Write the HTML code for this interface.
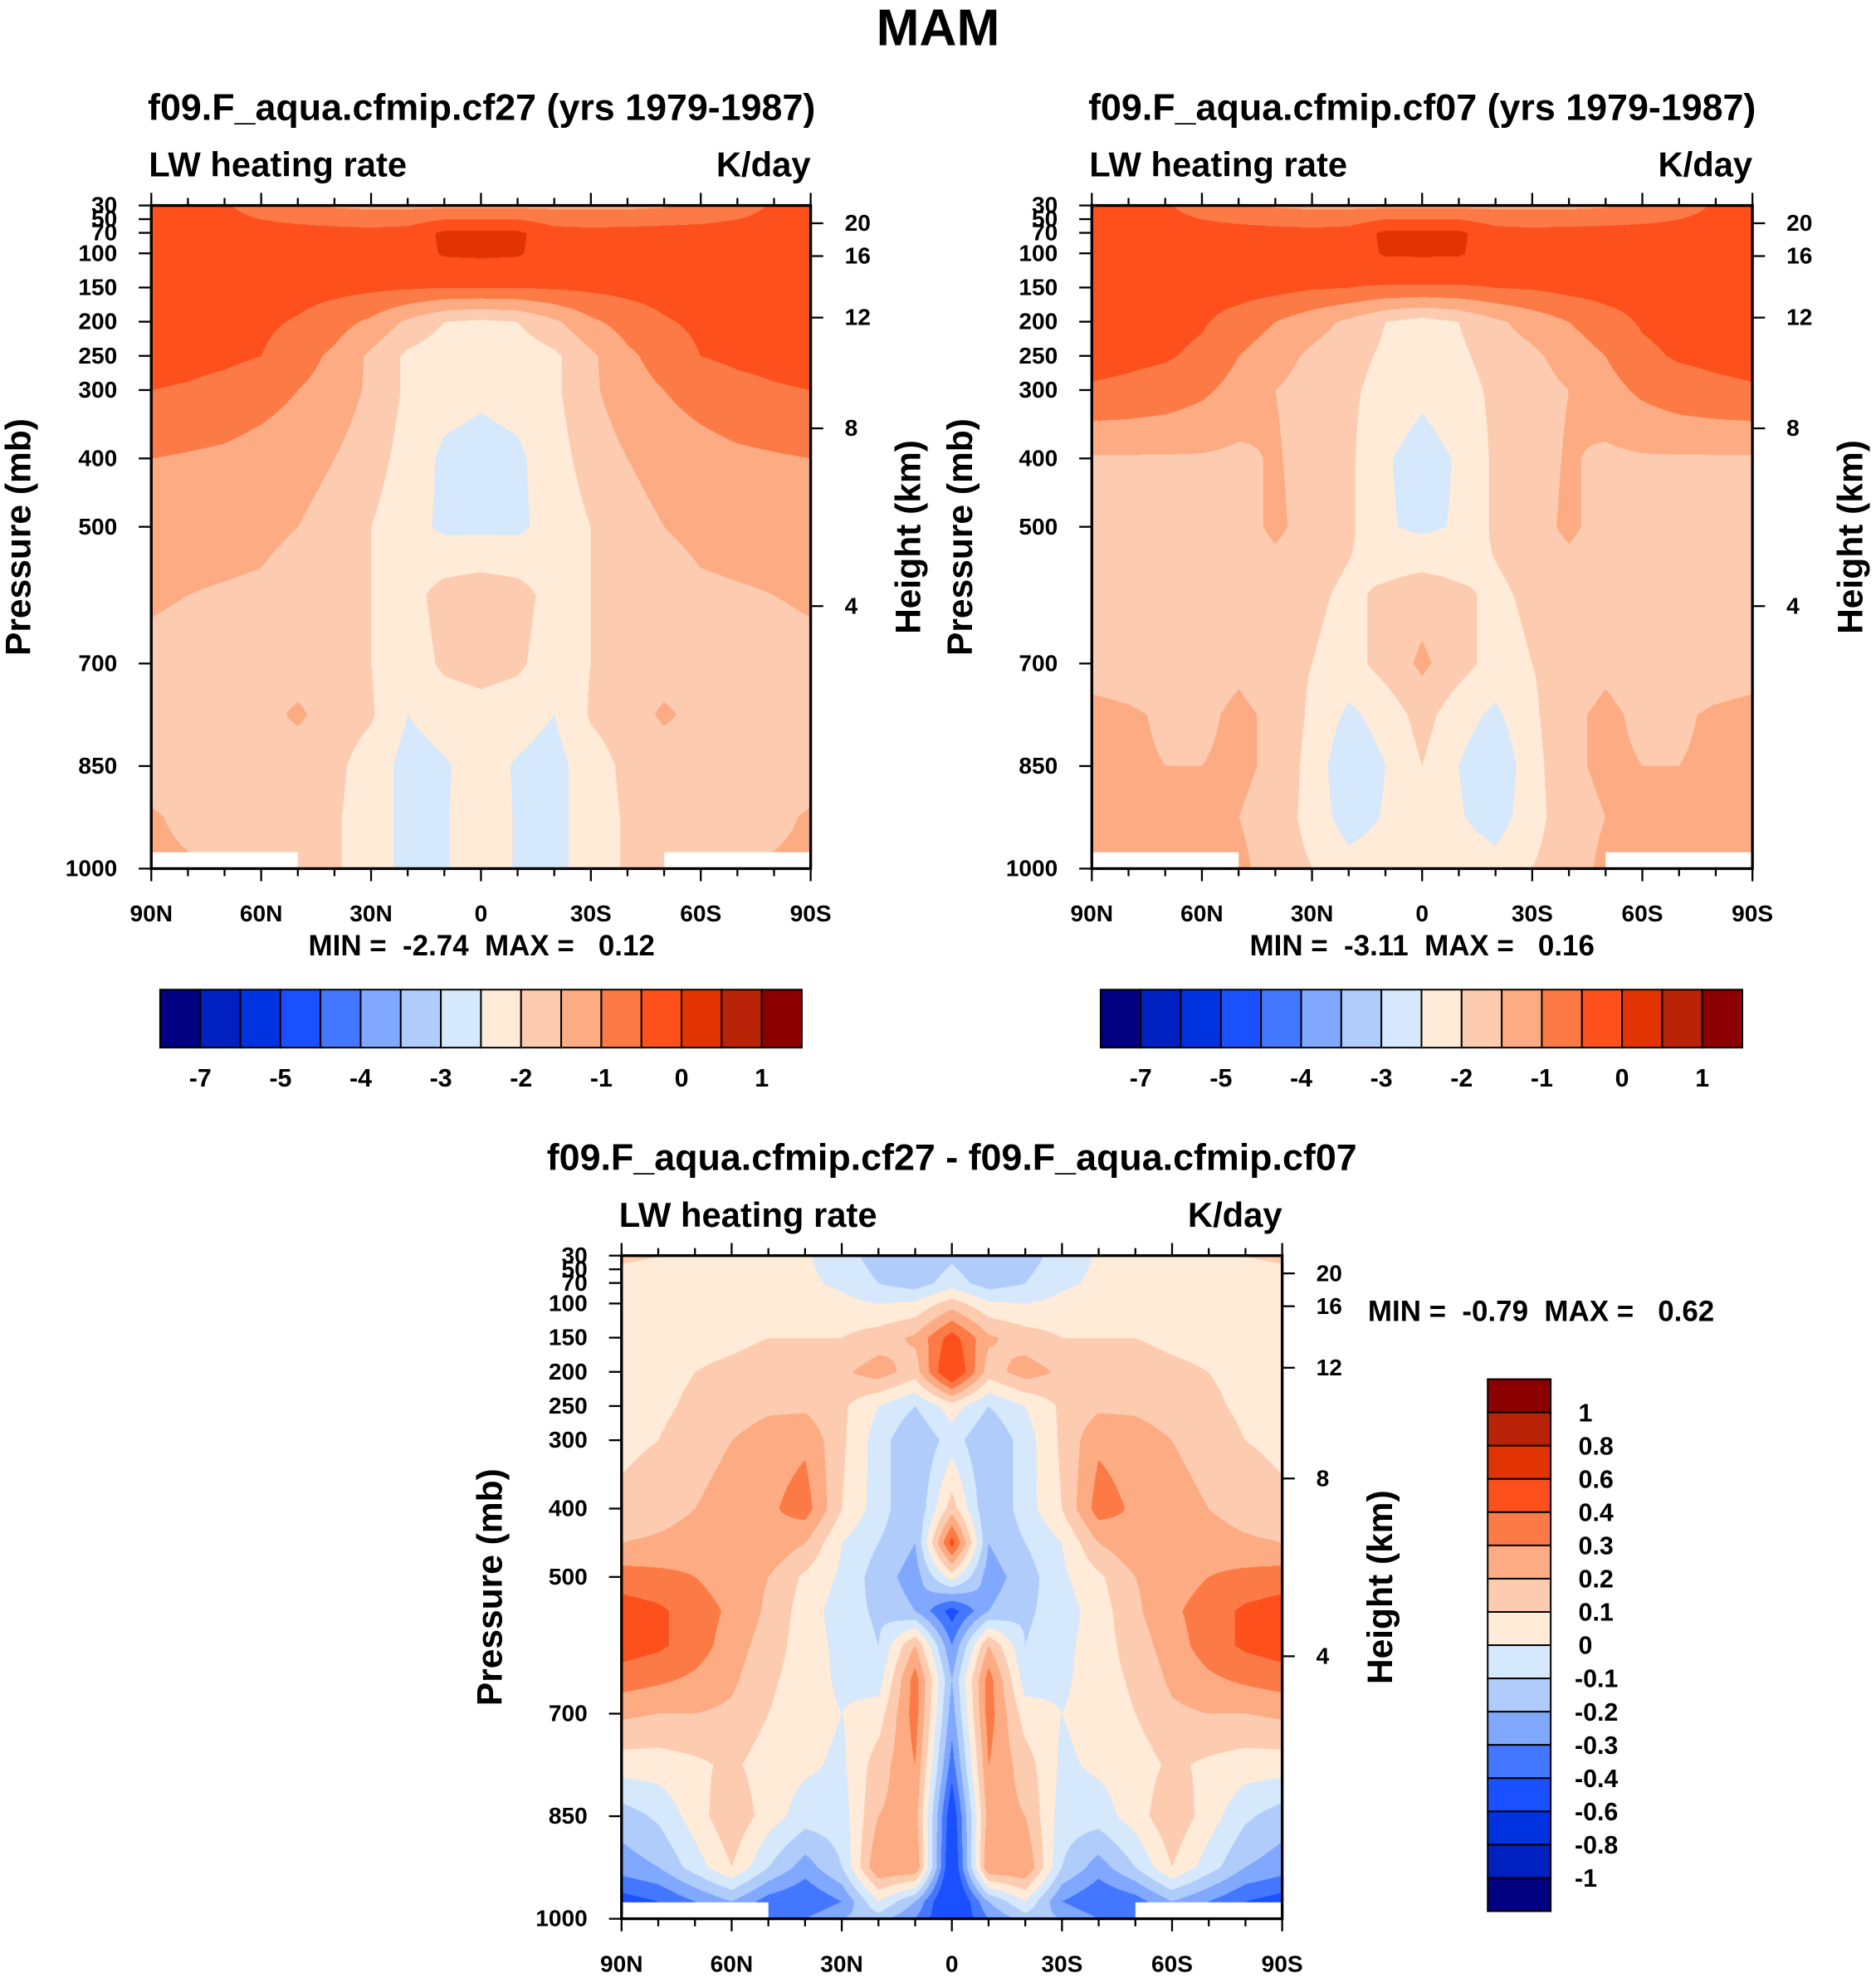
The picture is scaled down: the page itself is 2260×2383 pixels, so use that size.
<!DOCTYPE html>
<html><head><meta charset="utf-8">
<style>
html,body{margin:0;padding:0;background:#fff;}
body{width:2260px;height:2383px;overflow:hidden;position:relative;}
#stage{position:absolute;left:0;top:0;width:1488px;height:1569px;transform-origin:0 0;transform:scale(1.51882,1.51881);}
canvas{position:absolute;}
svg{position:absolute;left:0;top:0;}
text{font-family:"Liberation Sans",Arial,sans-serif;font-weight:bold;fill:#000;white-space:pre;}
</style></head>
<body>
<div id="stage">
<canvas id="c1" style="left:120px;top:163px;width:523px;height:526px" width="1046" height="1052"></canvas>
<canvas id="c2" style="left:866px;top:163px;width:524px;height:526px" width="1048" height="1052"></canvas>
<canvas id="c3" style="left:493px;top:996px;width:524px;height:526px" width="1048" height="1052"></canvas>
<svg id="ov" width="1488" height="1569" viewBox="0 0 1488 1569">
<text x="744" y="36" font-size="41" text-anchor="middle">MAM</text>
<text x="382" y="95" font-size="29.5" text-anchor="middle">f09.F_aqua.cfmip.cf27 (yrs 1979-1987)</text>
<text x="1128" y="95" font-size="29.5" text-anchor="middle">f09.F_aqua.cfmip.cf07 (yrs 1979-1987)</text>
<text x="755" y="928" font-size="29.5" text-anchor="middle">f09.F_aqua.cfmip.cf27 - f09.F_aqua.cfmip.cf07</text>
</svg>
</div>
<script>
// ---------- data ----------
const LATS = [90,80,70,60,50,40,30,20,10,0,-10,-20,-30,-40,-50,-60,-70,-80,-90];
const P12 = [30,70,100,150,200,250,300,400,500,600,700,775,850,925,1000];
const P3 = [30,70,100,150,200,250,300,400,450,500,550,600,650,700,775,850,925,975,1000];
const LEV12 = [-8,-7,-6,-5,-4.5,-4,-3.5,-3,-2.5,-2,-1.5,-1,-0.5,0,0.5,1];
const LEV3 = [-1.2,-1,-0.8,-0.6,-0.4,-0.3,-0.2,-0.1,0,0.1,0.2,0.3,0.4,0.6,0.8,1];
const LAB12 = ["-7","-5","-4","-3","-2","-1","0","1"];
const LAB12IDX = [1,3,5,7,9,11,13,15];
const LAB3 = ["1","0.8","0.6","0.4","0.3","0.2","0.1","0","-0.1","-0.2","-0.3","-0.4","-0.6","-0.8","-1"];
const COLORS = ["#000080","#0020c0","#0033e0","#1a50ff","#4477ff","#80a8ff","#b0ccfa","#d5e8fc","#ffebd8","#fdcbb0","#fcab82","#fc7a45","#fd501c","#e23403","#b82206","#8b0000"];
const PTICKS = [30,50,70,100,150,200,250,300,400,500,700,850,1000];
const HKM = ["20","16","12","8","4"];
const HKM_P = [56,104,194,356,616];
const XLAB = ["90N","60N","30N","0","30S","60S","90S"];
const XLAT = [90,60,30,0,-30,-60,-90];

const V1 = [
[-0.3,-0.35,-0.45,-0.7,-0.9,-1.05,-1.1,-1.1,-1.1,-1.1,-1.1,-1.1,-1.1,-1.1,-1.05,-0.9,-0.7,-0.45,-0.35,-0.3].slice(0,19),
[-0.3,-0.3,-0.3,-0.3,-0.3,-0.32,-0.35,-0.3,0.1,0.12,0.1,-0.3,-0.35,-0.32,-0.3,-0.3,-0.3,-0.3,-0.3],
[-0.3,-0.3,-0.3,-0.3,-0.3,-0.32,-0.35,-0.25,0.05,0.08,0.05,-0.25,-0.35,-0.32,-0.3,-0.3,-0.3,-0.3,-0.3],
[-0.3,-0.3,-0.3,-0.3,-0.3,-0.35,-0.4,-0.45,-0.5,-0.5,-0.5,-0.45,-0.4,-0.35,-0.3,-0.3,-0.3,-0.3,-0.3],
[-0.3,-0.3,-0.35,-0.4,-0.55,-0.8,-1.1,-1.6,-2.0,-2.1,-2.0,-1.6,-1.1,-0.8,-0.55,-0.4,-0.35,-0.3,-0.3],
[-0.3,-0.35,-0.4,-0.5,-0.8,-1.1,-1.6,-2.1,-2.3,-2.4,-2.3,-2.1,-1.6,-1.1,-0.8,-0.5,-0.4,-0.35,-0.3],
[-0.5,-0.55,-0.65,-0.8,-1.0,-1.2,-1.6,-2.1,-2.3,-2.4,-2.3,-2.1,-1.6,-1.2,-1.0,-0.8,-0.65,-0.55,-0.5],
[-1.0,-1.05,-1.1,-1.2,-1.3,-1.5,-1.8,-2.2,-2.6,-2.7,-2.6,-2.2,-1.8,-1.5,-1.3,-1.2,-1.1,-1.05,-1.0],
[-1.3,-1.3,-1.3,-1.35,-1.5,-1.7,-2.0,-2.3,-2.6,-2.6,-2.6,-2.3,-2.0,-1.7,-1.5,-1.35,-1.3,-1.3,-1.3],
[-1.45,-1.5,-1.55,-1.6,-1.8,-1.9,-2.0,-2.2,-1.8,-1.7,-1.8,-2.2,-2.0,-1.9,-1.8,-1.6,-1.55,-1.5,-1.45],
[-1.6,-1.65,-1.7,-1.75,-1.8,-1.85,-2.0,-2.3,-1.9,-1.8,-1.9,-2.3,-2.0,-1.85,-1.8,-1.75,-1.7,-1.65,-1.6],
[-1.7,-1.7,-1.7,-1.7,-1.4,-1.8,-1.95,-2.5,-2.3,-2.2,-2.3,-2.5,-1.95,-1.8,-1.4,-1.7,-1.7,-1.7,-1.7],
[-1.7,-1.75,-1.8,-1.8,-1.85,-1.9,-2.2,-2.7,-2.55,-2.3,-2.55,-2.7,-2.2,-1.9,-1.85,-1.8,-1.8,-1.75,-1.7],
[-1.45,-1.6,-1.7,-1.8,-1.9,-1.95,-2.2,-2.7,-2.55,-2.2,-2.55,-2.7,-2.2,-1.95,-1.9,-1.8,-1.7,-1.6,-1.45],
[-1.4,-1.45,-1.6,-1.8,-1.9,-1.95,-2.2,-2.7,-2.55,-2.2,-2.55,-2.7,-2.2,-1.95,-1.9,-1.8,-1.6,-1.45,-1.4]];

const V2 = [
[-0.3,-0.35,-0.45,-0.7,-0.9,-1.05,-1.1,-1.1,-1.1,-1.1,-1.1,-1.1,-1.1,-1.1,-1.05,-0.9,-0.7,-0.45,-0.35],
[-0.3,-0.3,-0.3,-0.3,-0.3,-0.32,-0.35,-0.3,0.1,0.12,0.1,-0.3,-0.35,-0.32,-0.3,-0.3,-0.3,-0.3,-0.3],
[-0.3,-0.3,-0.3,-0.3,-0.3,-0.32,-0.35,-0.25,0.05,0.06,0.05,-0.25,-0.35,-0.32,-0.3,-0.3,-0.3,-0.3,-0.3],
[-0.3,-0.3,-0.3,-0.3,-0.3,-0.35,-0.45,-0.5,-0.55,-0.55,-0.55,-0.5,-0.45,-0.35,-0.3,-0.3,-0.3,-0.3,-0.3],
[-0.3,-0.3,-0.35,-0.45,-0.7,-1.0,-1.3,-1.6,-2.0,-2.2,-2.0,-1.6,-1.3,-1.0,-0.7,-0.45,-0.35,-0.3,-0.3],
[-0.35,-0.4,-0.45,-0.6,-1.0,-1.3,-1.6,-1.8,-2.1,-2.3,-2.1,-1.8,-1.6,-1.3,-1.0,-0.6,-0.45,-0.4,-0.35],
[-0.55,-0.6,-0.7,-0.9,-1.2,-1.5,-1.7,-1.9,-2.2,-2.4,-2.2,-1.9,-1.7,-1.5,-1.2,-0.9,-0.7,-0.6,-0.55],
[-1.55,-1.55,-1.55,-1.55,-1.6,-1.45,-1.7,-1.9,-2.45,-2.7,-2.45,-1.9,-1.7,-1.45,-1.6,-1.55,-1.55,-1.55,-1.55],
[-1.6,-1.6,-1.6,-1.65,-1.7,-1.4,-1.7,-1.9,-2.45,-2.6,-2.45,-1.9,-1.7,-1.4,-1.7,-1.65,-1.6,-1.6,-1.6],
[-1.6,-1.65,-1.7,-1.7,-1.8,-1.8,-1.9,-2.1,-1.9,-1.7,-1.9,-2.1,-1.9,-1.8,-1.8,-1.7,-1.7,-1.65,-1.6],
[-1.65,-1.7,-1.75,-1.75,-1.6,-1.8,-2.0,-2.2,-1.8,-1.4,-1.8,-2.2,-2.0,-1.8,-1.6,-1.75,-1.75,-1.7,-1.65],
[-1.4,-1.45,-1.55,-1.6,-1.4,-1.6,-2.1,-2.6,-2.3,-1.8,-2.3,-2.6,-2.1,-1.6,-1.4,-1.6,-1.55,-1.45,-1.4],
[-1.4,-1.45,-1.5,-1.5,-1.4,-1.6,-2.2,-2.9,-2.5,-2.0,-2.5,-2.9,-2.2,-1.6,-1.4,-1.5,-1.5,-1.45,-1.4],
[-1.3,-1.35,-1.4,-1.4,-1.5,-1.7,-2.2,-2.75,-2.45,-2.1,-2.45,-2.75,-2.2,-1.7,-1.5,-1.4,-1.4,-1.35,-1.3],
[-0.9,-1.1,-1.3,-1.3,-1.4,-1.7,-2.0,-2.3,-2.2,-2.0,-2.2,-2.3,-2.0,-1.7,-1.4,-1.3,-1.3,-1.1,-0.9]];

const V3 = [
[0.12,0.1,0.08,0.05,0.03,0.01,-0.05,-0.15,-0.2,-0.12,-0.2,-0.15,-0.05,0.01,0.03,0.05,0.08,0.1,0.12],
[0.05,0.05,0.05,0.04,0.03,0.02,-0.02,-0.1,-0.15,-0.05,-0.15,-0.1,-0.02,0.02,0.03,0.04,0.05,0.05,0.05],
[0.05,0.05,0.05,0.05,0.05,0.05,0.03,0.0,0.02,0.15,0.02,0.0,0.03,0.05,0.05,0.05,0.05,0.05,0.05],
[0.05,0.06,0.07,0.08,0.1,0.1,0.1,0.15,0.22,0.45,0.22,0.15,0.1,0.1,0.1,0.08,0.07,0.06,0.05],
[0.05,0.07,0.1,0.12,0.14,0.16,0.18,0.25,0.15,0.55,0.15,0.25,0.18,0.16,0.14,0.12,0.1,0.07,0.05],
[0.06,0.08,0.12,0.15,0.18,0.18,0.12,0.0,-0.1,0.05,-0.1,0.0,0.12,0.18,0.18,0.15,0.12,0.08,0.06],
[0.08,0.1,0.15,0.2,0.25,0.28,0.12,-0.05,-0.2,-0.05,-0.2,-0.05,0.12,0.28,0.25,0.2,0.15,0.1,0.08],
[0.12,0.15,0.2,0.25,0.28,0.35,0.1,-0.05,-0.2,0.15,-0.2,-0.05,0.1,0.35,0.28,0.25,0.2,0.15,0.12],
[0.2,0.22,0.25,0.25,0.28,0.2,0.0,-0.1,-0.2,0.45,-0.2,-0.1,0.0,0.2,0.28,0.25,0.25,0.22,0.2],
[0.35,0.33,0.3,0.25,0.2,0.08,-0.02,-0.15,-0.25,0.05,-0.25,-0.15,-0.02,0.08,0.2,0.25,0.3,0.33,0.35],
[0.45,0.42,0.35,0.28,0.18,0.05,-0.05,-0.12,-0.2,-0.45,-0.2,-0.12,-0.05,0.05,0.18,0.28,0.35,0.42,0.45],
[0.45,0.42,0.35,0.25,0.15,0.05,-0.03,-0.1,0.2,-0.3,0.2,-0.1,-0.03,0.05,0.15,0.25,0.35,0.42,0.45],
[0.35,0.32,0.28,0.22,0.12,0.05,-0.02,-0.05,0.35,-0.2,0.35,-0.05,-0.02,0.05,0.12,0.22,0.28,0.32,0.35],
[0.22,0.2,0.2,0.18,0.1,0.04,0.0,0.05,0.35,-0.25,0.35,0.05,0.0,0.04,0.1,0.18,0.2,0.2,0.22],
[0.05,0.05,0.08,0.12,0.05,0.02,-0.02,0.15,0.3,-0.35,0.3,0.15,-0.02,0.02,0.05,0.12,0.08,0.05,0.05],
[-0.15,-0.08,0.05,0.18,0.05,-0.05,-0.05,0.2,0.25,-0.5,0.25,0.2,-0.05,-0.05,0.05,0.18,0.05,-0.08,-0.15],
[-0.25,-0.2,-0.05,0.1,-0.1,-0.25,-0.1,0.3,0.3,-0.55,0.3,0.3,-0.1,-0.25,-0.1,0.1,-0.05,-0.2,-0.25],
[-0.45,-0.4,-0.3,-0.2,-0.35,-0.4,-0.3,0.0,-0.2,-0.6,-0.2,0.0,-0.3,-0.4,-0.35,-0.2,-0.3,-0.4,-0.45],
[-0.3,-0.3,-0.25,-0.2,-0.4,-0.3,-0.2,-0.15,-0.3,-0.55,-0.3,-0.15,-0.2,-0.3,-0.4,-0.2,-0.25,-0.3,-0.3]];

// ---------- rendering ----------
function hex(c){return [parseInt(c.substr(1,2),16),parseInt(c.substr(3,2),16),parseInt(c.substr(5,2),16)];}
const RGB = COLORS.map(hex);
function colorIdx(v, lev){let i=0;while(i<lev.length-1 && v>=lev[i+1]) i++; return i;}
function interp(vals, plev, lat, p){
  let fi=(90-lat)/10; let i0=Math.min(Math.floor(fi),LATS.length-2); let tx=fi-i0;
  let j0=0; while(j0<plev.length-2 && p>plev[j0+1]) j0++;
  let ty=(p-plev[j0])/(plev[j0+1]-plev[j0]); ty=Math.max(0,Math.min(1,ty));
  const a=vals[j0][i0],b=vals[j0][i0+1],c=vals[j0+1][i0],d=vals[j0+1][i0+1];
  return (a*(1-tx)+b*tx)*(1-ty)+(c*(1-tx)+d*tx)*ty;
}
function drawField(id, vals, plev, lev){
  const cv=document.getElementById(id), ctx=cv.getContext('2d');
  const W=cv.width,H=cv.height, img=ctx.createImageData(W,H);
  for(let y=0;y<H;y++){const p=30+970*y/(H-1);
    for(let x=0;x<W;x++){const lat=90-180*x/(W-1);
      const v=interp(vals,plev,lat,p); const k=colorIdx(v,lev); const c=RGB[k]; const o=(y*W+x)*4;
      img.data[o]=c[0];img.data[o+1]=c[1];img.data[o+2]=c[2];img.data[o+3]=255;}}
  ctx.putImageData(img,0,0);
  ctx.fillStyle='#fff';
  const wb=W*40/180, hb=H*13/526;
  ctx.fillRect(0,H-hb,wb,hb); ctx.fillRect(W-wb,H-hb,wb,hb);
}
drawField('c1',V1,P12,LEV12);
drawField('c2',V2,P12,LEV12);
drawField('c3',V3,P3,LEV3);

const NS='http://www.w3.org/2000/svg', svg=document.getElementById('ov');
function mk(tag, attrs, txt){const e=document.createElementNS(NS,tag);for(const k in attrs)e.setAttribute(k,attrs[k]);if(txt!==undefined)e.textContent=txt;svg.appendChild(e);return e;}

function axes(x0,y0,w,h,tag,pLab,hLab){
  const X=lat=>x0+(90-lat)/180*w, Y=p=>y0+(p-30)/970*h;
  let e=mk('rect',{x:x0,y:y0,width:w,height:h,fill:'none',stroke:'#000','stroke-width':2.2});
  
  
  for(let lat=90;lat>=-90;lat-=10){const major=lat%30===0;const L=major?10:6;
    e=mk('line',{x1:X(lat),x2:X(lat),y1:y0+h,y2:y0+h+L,stroke:'#000','stroke-width':1.5});
    
    
    e=mk('line',{x1:X(lat),x2:X(lat),y1:y0,y2:y0-L,stroke:'#000','stroke-width':1.5});
    
    }
  XLAB.forEach((s,i)=>{e=mk('text',{x:X(XLAT[i]),y:y0+h+42,'font-size':18.5,'text-anchor':'middle'},s);
    
    });
  PTICKS.forEach(p=>{e=mk('line',{x1:x0-10,x2:x0,y1:Y(p),y2:Y(p),stroke:'#000','stroke-width':1.5});
    
    
    e=mk('text',{x:x0-27,y:Y(p)+6,'font-size':18.5,'text-anchor':'end'},String(p));
    
    });
  HKM_P.forEach((p,i)=>{e=mk('line',{x1:x0+w,x2:x0+w+10,y1:Y(p),y2:Y(p),stroke:'#000','stroke-width':1.5});
    
    
    e=mk('text',{x:x0+w+27,y:Y(p)+6,'font-size':18.5},HKM[i]);
    
    });
  e=mk('text',{x:x0-2,y:y0-23,'font-size':27.5},'LW heating rate');
  
  
  e=mk('text',{x:x0+w,y:y0-23,'font-size':27.5,'text-anchor':'end'},'K/day');
  
  
  e=mk('text',{x:0,y:0,'font-size':28,'text-anchor':'middle',transform:'translate('+pLab+','+(y0+h/2)+') rotate(-90)'},'Pressure (mb)');
  
  
  e=mk('text',{x:0,y:0,'font-size':28,'text-anchor':'middle',transform:'translate('+hLab+','+(y0+h/2)+') rotate(-90)'},'Height (km)');
  
  
}
axes(120,163,523,526,'cf27',24,730);
axes(866,163,524,526,'cf07',771,1477);
axes(493,996,524,526,'diff',398,1104);

let t=mk('text',{x:382,y:758,'font-size':23,'text-anchor':'middle'},'MIN =  -2.74  MAX =   0.12');


t=mk('text',{x:1128,y:758,'font-size':23,'text-anchor':'middle'},'MIN =  -3.11  MAX =   0.16');


t=mk('text',{x:1085,y:1048,'font-size':23},'MIN =  -0.79  MAX =   0.62');



function hbar(x0,tag){const y0=785,h=46,bw=(636-127)/16;
  COLORS.forEach((c,i)=>{const r=mk('rect',{x:x0+i*bw,y:y0,width:bw,height:h,fill:c,stroke:'#000','stroke-width':1.3});
    
    });
  LAB12.forEach((s,i)=>{const e=mk('text',{x:x0+LAB12IDX[i]*bw,y:862,'font-size':20,'text-anchor':'middle'},s);
    
    });
}
hbar(127,'cf27'); hbar(873,'cf07');
(function(){const x0=1180,y0=1094,w=50,bh=(1516-1094)/16;
  for(let i=0;i<16;i++){const r=mk('rect',{x:x0,y:y0+i*bh,width:w,height:bh,fill:COLORS[15-i],stroke:'#000','stroke-width':1.3});
    
    }
  LAB3.forEach((s,i)=>{const e=mk('text',{x:x0+w+(s[0]==='-'?19:22),y:y0+(i+1)*bh+7,'font-size':20},s);
    
    });
})();
</script>
</body></html>
